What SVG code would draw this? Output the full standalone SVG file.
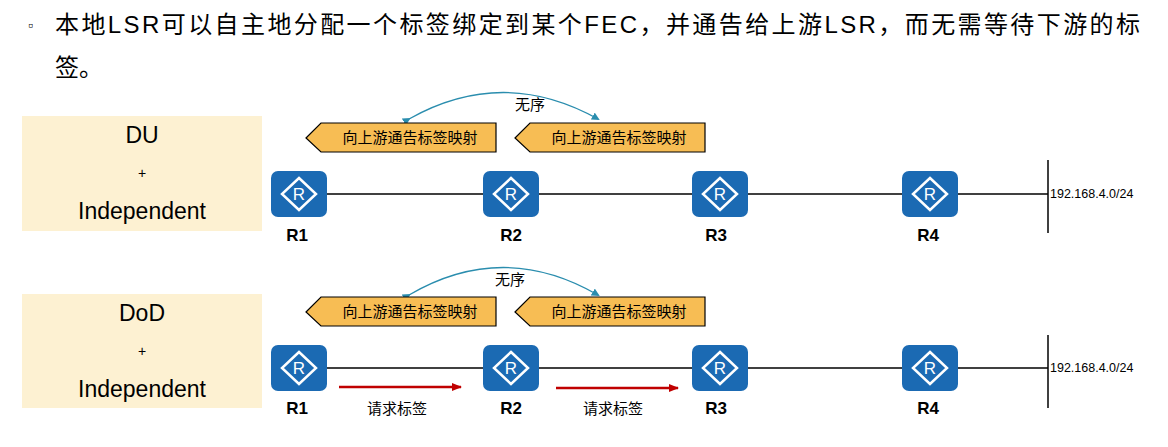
<svg xmlns="http://www.w3.org/2000/svg" width="1168" height="447" viewBox="0 0 1168 447">
<style>
text{font-family:"Liberation Sans","Noto Sans CJK SC",sans-serif;fill:#000}
.title{font-size:24px}
.mode{font-size:23px;text-anchor:middle}
.plus{font-size:14px;text-anchor:middle}
.cn{font-size:15px;text-anchor:middle}
.rl{font-size:17px;font-weight:bold;text-anchor:middle}
.ip{font-size:12.5px}
.box{fill:#FDF1D2}
.call{fill:#F7BD54;stroke:#000;stroke-width:1.2}
.rbg{fill:#1B6AB3}
.rd{fill:none;stroke:#fff;stroke-width:2.5}
.link{stroke:#000;stroke-width:1.5}
.arc{fill:none;stroke:#2A8DAE;stroke-width:1.3}
.req{stroke:#C00000;stroke-width:2.5}
</style>
<defs>
<marker id="ab" markerWidth="8" markerHeight="8" refX="6" refY="4" orient="auto" markerUnits="userSpaceOnUse"><path d="M0,0 L8,4 L0,8 Z" fill="#2A8DAE"/></marker>
<marker id="ar" markerWidth="10" markerHeight="8" refX="9" refY="4" orient="auto" markerUnits="userSpaceOnUse"><path d="M0,0 L10,4 L0,8 Z" fill="#C00000"/></marker>
<g id="router"><rect class="rbg" x="-28" y="-23" width="56" height="46" rx="7"/><path class="rd" d="M0,-16 L17,0 L0,16 L-17,0 Z"/><text x="0" y="6" style="font-size:17px;fill:#fff;text-anchor:middle">R</text></g>
</defs>
<text x="28" y="30" style="font-size:14px">▫</text>
<text class="title" x="55" y="33" textLength="1085" lengthAdjust="spacing">本地LSR可以自主地分配一个标签绑定到某个FEC，并通告给上游LSR，而无需等待下游的标</text>
<text class="title" x="55" y="76">签。</text>

<g id="connectors">
<line class="link" x1="299" y1="194" x2="1048" y2="194"/>
<line class="link" x1="1048" y1="160" x2="1048" y2="233"/>
<line class="link" x1="299" y1="368" x2="1048" y2="368"/>
<line class="link" x1="1048" y1="335" x2="1048" y2="408"/>
<path class="arc" d="M409,119 Q503,66 598,119" marker-start="url(#ab)" marker-end="url(#ab)"/>
<path class="arc" d="M409,295 Q503,240 598,295" marker-start="url(#ab)" marker-end="url(#ab)"/>
<line class="req" x1="339" y1="387" x2="461" y2="387" marker-end="url(#ar)"/>
<line class="req" x1="556" y1="388" x2="678" y2="388" marker-end="url(#ar)"/>
</g>

<g id="mode1"><rect class="box" x="22" y="116" width="240" height="115"/><text class="mode" x="142" y="143">DU</text><text class="plus" x="142" y="178">+</text><text class="mode" x="142" y="219">Independent</text></g>
<g id="mode2"><rect class="box" x="22" y="294" width="240" height="114"/><text class="mode" x="142" y="321">DoD</text><text class="plus" x="142" y="356">+</text><text class="mode" x="142" y="397">Independent</text></g>

<g id="c1"><path class="call" d="M306,138 L321,123 L496,123 L496,152 L321,152 Z"/><text class="cn" x="410" y="143">向上游通告标签映射</text></g>
<g id="c2"><path class="call" d="M515,138 L530,123 L705,123 L705,152 L530,152 Z"/><text class="cn" x="619" y="143">向上游通告标签映射</text></g>
<g id="c3"><path class="call" d="M306,312 L321,297 L496,297 L496,326 L321,326 Z"/><text class="cn" x="410" y="317">向上游通告标签映射</text></g>
<g id="c4"><path class="call" d="M515,312 L530,297 L705,297 L705,326 L530,326 Z"/><text class="cn" x="619" y="317">向上游通告标签映射</text></g>
<text class="cn" x="530" y="110">无序</text>
<text class="cn" x="510" y="285">无序</text>
<text class="cn" x="397" y="414">请求标签</text>
<text class="cn" x="613" y="414">请求标签</text>

<g id="r1a"><use href="#router" x="299" y="194"/><text class="rl" x="297" y="241">R1</text></g>
<g id="r2a"><use href="#router" x="511" y="194"/><text class="rl" x="511" y="241">R2</text></g>
<g id="r3a"><use href="#router" x="720" y="194"/><text class="rl" x="716" y="241">R3</text></g>
<g id="r4a"><use href="#router" x="930" y="194"/><text class="rl" x="928" y="241">R4</text></g>
<text class="ip" x="1050" y="198">192.168.4.0/24</text>
<g id="r1b"><use href="#router" x="299" y="368"/><text class="rl" x="297" y="414">R1</text></g>
<g id="r2b"><use href="#router" x="511" y="368"/><text class="rl" x="511" y="414">R2</text></g>
<g id="r3b"><use href="#router" x="720" y="368"/><text class="rl" x="716" y="414">R3</text></g>
<g id="r4b"><use href="#router" x="930" y="368"/><text class="rl" x="928" y="414">R4</text></g>
<text class="ip" x="1050" y="372">192.168.4.0/24</text>
</svg>
